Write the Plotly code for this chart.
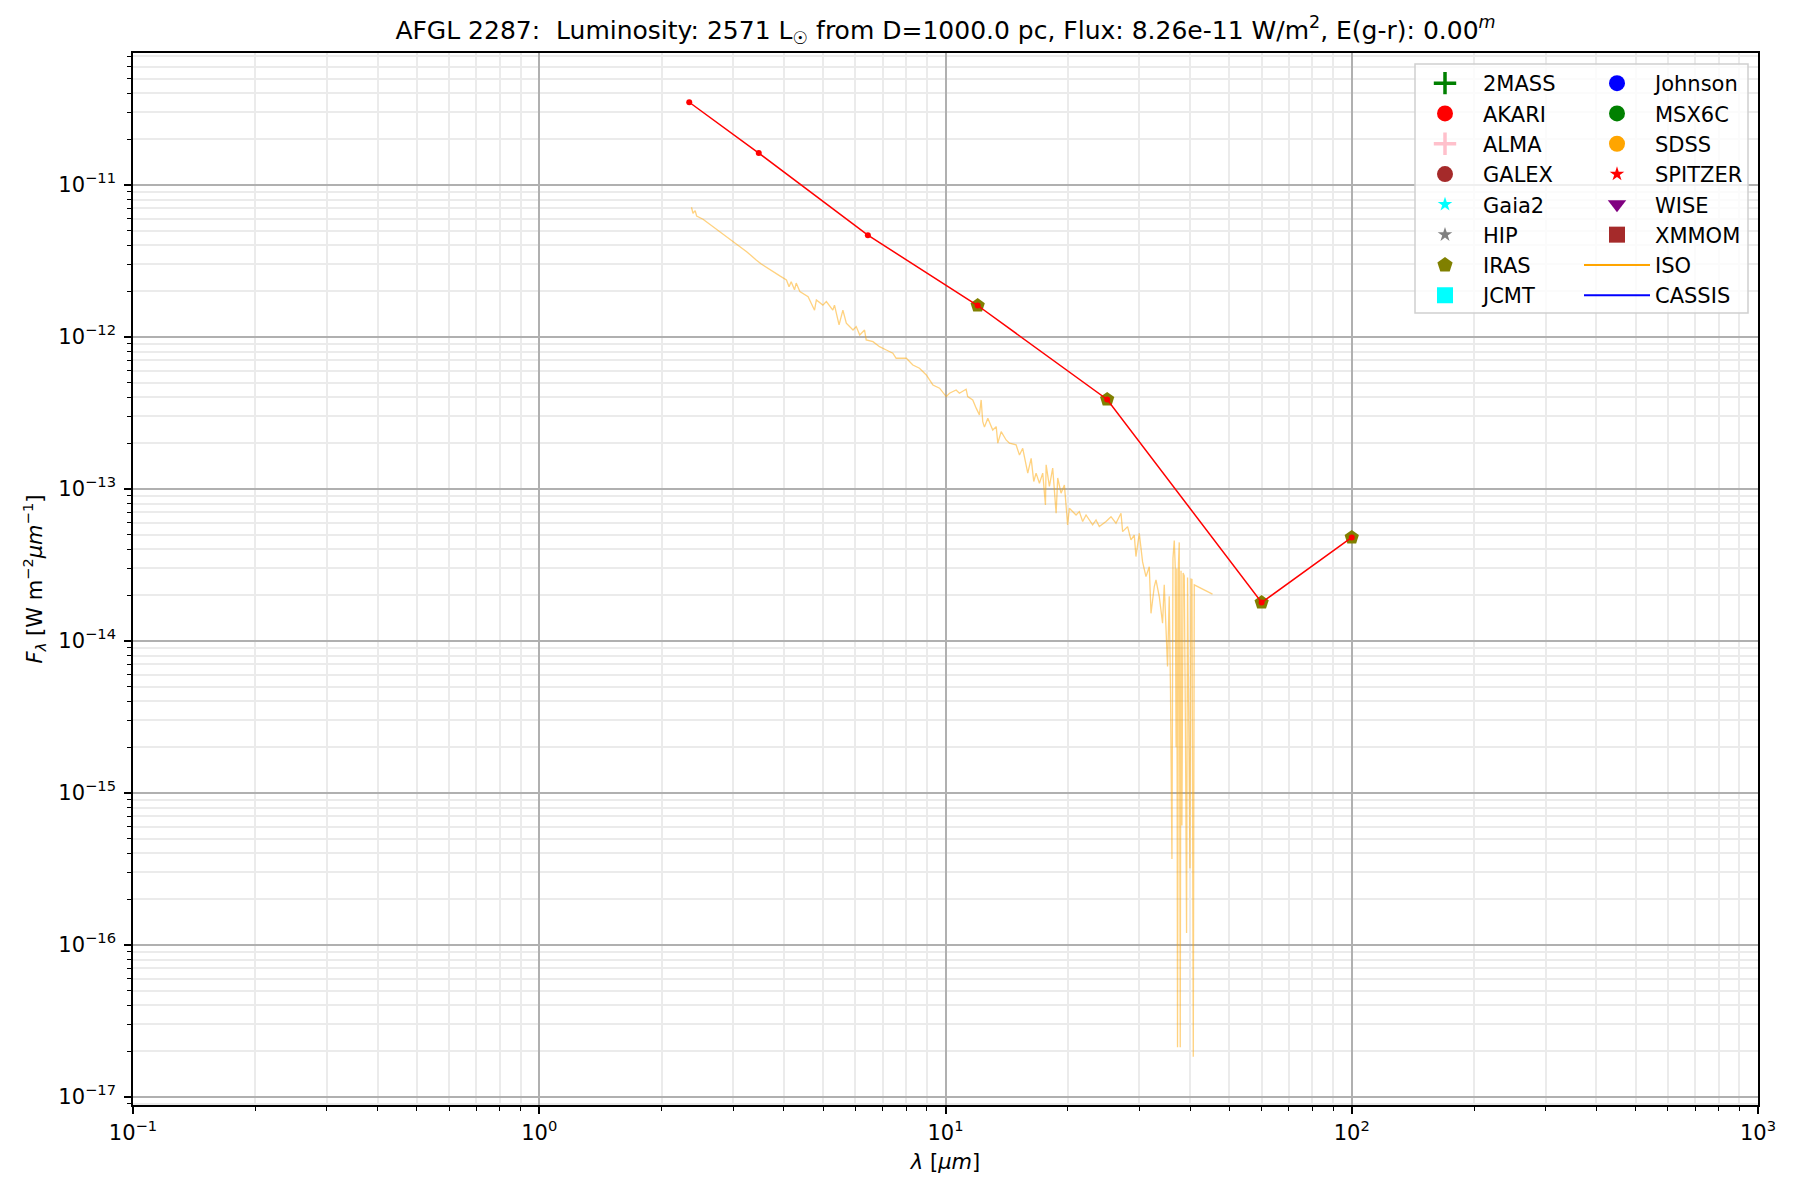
import plotly.graph_objects as go

# photometry (connected red line) and IRAS points
phot_wl = [2.34, 3.47, 6.44, 12.0, 25.0, 60.0, 100.0]
phot_flux = [3.50e-11, 1.62e-11, 4.67e-12, 1.61e-12, 3.88e-13, 1.79e-14, 4.8e-14]

iras_wl = [12.0, 25.0, 60.0, 100.0]
iras_flux = [1.61e-12, 3.88e-13, 1.79e-14, 4.8e-14]

# ISO spectrum
iso_wl = [
    2.37, 2.39, 2.42, 2.44, 2.53, 2.68, 3.00, 3.24, 3.42, 3.52,
    3.91, 4.06, 4.12, 4.17, 4.25, 4.29, 4.38, 4.59, 4.76, 4.81,
    4.99, 5.09, 5.28, 5.33, 5.47, 5.59, 5.70, 5.92, 6.03, 6.15,
    6.32, 6.38, 6.63, 6.88, 7.15, 7.42, 7.56, 8.01, 8.31, 8.63,
    8.97, 9.31, 9.67, 10.04, 10.23, 10.62, 10.82, 11.24, 11.34, 11.67,
    11.90, 12.12, 12.24, 12.35, 12.47, 12.71, 13.07, 13.33, 13.45, 13.71,
    14.10, 14.37, 14.92, 15.21, 15.49, 15.79, 15.94, 16.25, 16.49, 16.71,
    17.03, 17.35, 17.62, 17.69, 18.02, 18.36, 18.72, 18.89, 19.25, 19.62,
    19.98, 20.18, 20.96, 21.35, 21.76, 22.18, 23.02, 23.47, 23.91, 24.84,
    25.55, 26.28, 27.04, 27.29, 28.07, 28.61, 29.15, 29.43, 29.99, 30.56,
    31.15, 31.74, 32.05, 32.65, 32.97, 33.59, 34.22, 34.55, 35.20, 35.54,
    35.80, 36.09, 36.30, 36.57, 36.77, 36.95, 37.10, 37.25, 37.45, 37.62,
    37.83, 38.00, 38.19, 38.45, 38.70, 38.95, 39.21, 39.43, 39.70, 39.97,
    40.20, 40.43, 40.73, 40.96, 45.42,
]
iso_flux = [
    7.13e-12, 6.51e-12, 6.77e-12, 6.25e-12, 5.95e-12, 5.32e-12, 4.24e-12, 3.64e-12, 3.21e-12, 3.02e-12,
    2.52e-12, 2.37e-12, 2.14e-12, 2.31e-12, 2.04e-12, 2.26e-12, 1.99e-12, 1.84e-12, 1.50e-12, 1.75e-12,
    1.62e-12, 1.71e-12, 1.50e-12, 1.62e-12, 1.20e-12, 1.50e-12, 1.23e-12, 1.11e-12, 1.17e-12, 1.03e-12,
    1.11e-12, 9.56e-13, 9.31e-13, 8.63e-13, 8.21e-13, 7.81e-13, 7.24e-13, 7.24e-13, 6.54e-13, 6.22e-13,
    5.62e-13, 4.83e-13, 4.60e-13, 4.05e-13, 4.26e-13, 4.48e-13, 4.26e-13, 4.53e-13, 4.05e-13, 3.85e-13,
    3.40e-13, 3.07e-13, 3.85e-13, 2.77e-13, 2.55e-13, 2.92e-13, 2.44e-13, 2.57e-13, 2.00e-13, 2.38e-13,
    2.10e-13, 2.00e-13, 1.95e-13, 1.67e-13, 1.85e-13, 1.48e-13, 1.27e-13, 1.59e-13, 1.12e-13, 1.27e-13,
    1.09e-13, 1.27e-13, 7.85e-14, 1.44e-13, 1.04e-13, 1.37e-13, 6.92e-14, 1.18e-13, 9.37e-14, 1.06e-13,
    5.80e-14, 7.46e-14, 6.74e-14, 7.09e-14, 6.10e-14, 6.74e-14, 5.80e-14, 6.25e-14, 5.65e-14, 6.10e-14,
    6.57e-14, 5.95e-14, 6.92e-14, 5.24e-14, 5.65e-14, 4.62e-14, 4.97e-14, 3.59e-14, 5.11e-14, 3.31e-14,
    2.65e-14, 3.08e-14, 1.52e-14, 2.28e-14, 2.52e-14, 1.96e-14, 1.31e-14, 2.34e-14, 6.80e-15, 1.97e-14,
    4.6e-15, 3.68e-16, 3.5e-14, 4.57e-14, 3.09e-14, 2.0e-15, 3.0e-14, 2.12e-17, 3.2e-14, 4.45e-14,
    2.12e-17, 2.9e-14, 6.10e-16, 2.8e-14, 2.68e-14, 3.0e-15, 1.20e-16, 2.61e-14, 2.6e-15, 3.20e-16,
    2.55e-14, 2.54e-14, 1.84e-17, 2.34e-14, 2.03e-14,
]

x_decades = [-1, 0, 1, 2, 3]
y_decades = [-17, -16, -15, -14, -13, -12, -11]

# legend entries: (name, symbol, colour, size, column)
legend_items = [
    ("2MASS", "cross-thin", "#008000", 17, 1),
    ("AKARI", "circle", "#ff0000", 17, 1),
    ("ALMA", "cross-thin", "#ffc0cb", 17, 1),
    ("GALEX", "circle", "#a52a2a", 17, 1),
    ("Gaia2", "star", "#00ffff", 11, 1),
    ("HIP", "star", "#808080", 11, 1),
    ("IRAS", "pentagon", "#808000", 17, 1),
    ("JCMT", "square", "#00ffff", 17, 1),
    ("Johnson", "circle", "#0000ff", 17, 2),
    ("MSX6C", "circle", "#008000", 17, 2),
    ("SDSS", "circle", "#ffa500", 17, 2),
    ("SPITZER", "star", "#ff0000", 11, 2),
    ("WISE", "triangle-down", "#800080", 17, 2),
    ("XMMOM", "square", "#a52a2a", 17, 2),
]
line_items = [("ISO", "#ffa500"), ("CASSIS", "#0000ff")]

font = "DejaVu Sans"
fig = go.Figure()

fig.add_trace(go.Scatter(
    x=iso_wl, y=iso_flux, mode="lines",
    line=dict(color="rgba(255,165,0,0.5)", width=1.3),
    showlegend=False, hoverinfo="skip",
))
fig.add_trace(go.Scatter(
    x=iras_wl, y=iras_flux, mode="markers",
    marker=dict(symbol="pentagon", color="#808000", size=15),
    showlegend=False,
))
fig.add_trace(go.Scatter(
    x=phot_wl, y=phot_flux, mode="lines+markers",
    line=dict(color="#ff0000", width=1.5),
    marker=dict(color="#ff0000", size=6),
    showlegend=False,
))

# legend-only entries
for name, sym, col, size, column in legend_items:
    mk = dict(symbol=sym, color=col, size=size)
    if sym.endswith("-thin"):
        mk["line"] = dict(color=col, width=3.5)
    fig.add_trace(go.Scatter(
        x=[None], y=[None], mode="markers", name=name, marker=mk,
        legend="legend" if column == 1 else "legend2", legendgroup=name,
    ))
for name, col in line_items:
    fig.add_trace(go.Scatter(
        x=[None], y=[None], mode="lines", name=name,
        line=dict(color=col, width=2),
        legend="legend2", legendgroup=name,
    ))

W, H = 1800, 1200
ml, mr, mt, mb = 133, 42, 53, 95
pw, ph = W - ml - mr, H - mt - mb


def px_x(p):
    return (p - ml) / pw


def px_y(p):
    return 1 - (p - mt) / ph


x_minor = [m * 10.0 ** d for d in x_decades[:-1] for m in range(2, 10)]
y_minor = [m * 10.0 ** d for d in range(-18, -10) for m in range(2, 10)]

axis_common = dict(
    type="log", showline=True, linecolor="black", linewidth=1.6, mirror=True,
    ticks="outside", ticklen=7, tickwidth=1.5, tickcolor="black",
    showgrid=True, gridcolor="#b0b0b0", gridwidth=1.5, zeroline=False,
    tickfont=dict(family=font, size=21, color="black"),
    automargin=False,
)

fig.update_xaxes(
    range=[-1, 3],
    tickmode="array",
    tickvals=[10.0 ** d for d in x_decades],
    ticktext=["10<sup>%s</sup>" % str(d).replace("-", "\u2212") for d in x_decades],
    minor=dict(tickmode="array", tickvals=x_minor, ticks="outside", ticklen=4,
               tickwidth=1.2, tickcolor="black", showgrid=True, gridcolor="#ebebeb", gridwidth=1.5),
    title=dict(text="<i>\u03bb</i> [<i>\u03bcm</i>]", font=dict(family=font, size=21, color="black"),
               standoff=10),
    ticklabelstandoff=1,
    **axis_common,
)
fig.update_yaxes(
    range=[-17.053, -10.132],
    tickmode="array",
    tickvals=[10.0 ** d for d in y_decades],
    ticktext=["10<sup>%s</sup>" % str(d).replace("-", "\u2212") for d in y_decades],
    minor=dict(tickmode="array", tickvals=y_minor, ticks="outside", ticklen=4,
               tickwidth=1.2, tickcolor="black", showgrid=True, gridcolor="#ebebeb", gridwidth=1.5),
    title=dict(text="<i>F</i><sub><i>\u03bb</i></sub> [W m<sup>\u22122</sup><i>\u03bcm</i><sup>\u22121</sup>]",
               font=dict(family=font, size=21, color="black"), standoff=10),
    ticklabelstandoff=4,
    **axis_common,
)

legend_common = dict(
    bgcolor="rgba(0,0,0,0)", borderwidth=0, xanchor="left", yanchor="top",
    font=dict(family=font, size=21, color="black"), itemwidth=66,
    tracegroupgap=0, traceorder="grouped",
)

fig.update_layout(
    width=W, height=H, autosize=False,
    margin=dict(l=ml, r=mr, t=mt, b=mb, pad=0),
    paper_bgcolor="white", plot_bgcolor="white",
    font=dict(family=font, size=21, color="black"),
    title=dict(
        text="AFGL 2287:  Luminosity: 2571 L<sub>\u2609</sub> from D=1000.0 pc, "
             "Flux: 8.26e-11 W/m<sup>2</sup>, E(g-r): 0.00<sup><i>m</i></sup>",
        x=0.5, xref="paper", xanchor="center", y=1 - 30 / H, yref="container", yanchor="middle",
        font=dict(family=font, size=25, color="black"),
    ),
    legend=dict(x=px_x(1407), y=px_y(63), **legend_common),
    legend2=dict(x=px_x(1579), y=px_y(63), **legend_common),
    shapes=[dict(
        type="rect", xref="paper", yref="paper", layer="above",
        x0=px_x(1415), x1=px_x(1748), y0=px_y(313), y1=px_y(64),
        line=dict(color="#d0d0d0", width=1.5), fillcolor="rgba(255,255,255,0.8)",
    )],
)

fig.write_html("out.html", config={"displayModeBar": False},
               post_script="document.body.style.margin='0';")
